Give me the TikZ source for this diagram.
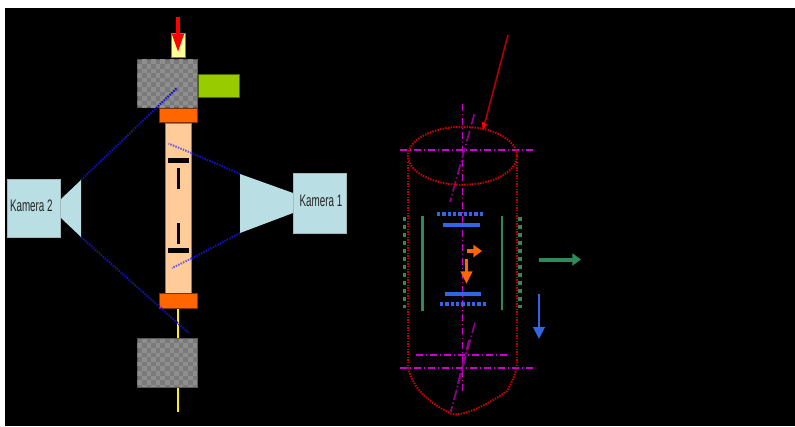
\documentclass[tikz,border=0pt]{standalone}
\usepackage{fontspec}
\setmainfont{Liberation Sans}
\usetikzlibrary{arrows.meta}
\definecolor{camblue}{HTML}{B9DEE3}
\definecolor{rodcol}{HTML}{FFCC99}
\definecolor{flange}{HTML}{FF6600}
\definecolor{limeg}{HTML}{99CC00}
\definecolor{paley}{HTML}{FFFF99}
\definecolor{navyd}{HTML}{1010C8}
\definecolor{violetl}{HTML}{6A5AE0}
\definecolor{darkred}{HTML}{B00000}
\definecolor{dotred}{HTML}{C80000}
\definecolor{mag}{HTML}{CC00CC}
\definecolor{purp}{HTML}{8A008A}
\definecolor{seag}{HTML}{2E8B57}
\definecolor{blu}{HTML}{3366E6}
\definecolor{gra}{HTML}{7A7A7A}
\definecolor{grb}{HTML}{8E8E8E}
\tikzset{
  x=.75pt,y=-.75pt,
  edge/.style={draw=#1,line width=.6pt},
  part/.style={rectangle,inner sep=0pt,outer sep=0pt},
  cam/.style={part,fill=camblue,edge=camblue!60!gray},
  rodbox/.style={part,fill=rodcol,edge=rodcol!60!black},
  flangebox/.style={part,fill=flange,edge=flange!50!black},
  limebox/.style={part,fill=limeg,edge=limeg!50!black},
  palebox/.style={part,fill=paley,edge=paley!50!black},
  barbox/.style={part,fill=black,draw=black},
  graybox/.style={part,fill=gra,edge=gray!70!black},
  sight/.style={navyd,line width=1.5pt,dash pattern=on 1.1pt off .9pt},
  sightin/.style={violetl,line width=1.5pt,dash pattern=on 1.1pt off .9pt},
  contour/.style={dotred,line width=1.5pt,dash pattern=on 1.1pt off .9pt},
  axis/.style={mag,line width=1.3pt,dash pattern=on 5.5pt off 2pt on 1pt off 2pt},
  axiss/.style={purp,line width=1.3pt,dash pattern=on 8pt off 2pt on 1pt off 2pt},
  dotsg/.style={seag,line width=2.6pt,dash pattern=on 3pt off 3pt},
  dotsb/.style={blu,line width=3pt,dash pattern=on 2.4pt off 1.6pt},
  camlabel/.style={inner sep=0pt,text=black!85,font=\fontsize{12.5}{14}\selectfont,xscale=.59},
}
\newcommand{\rectnode}[6]{%
  \pgfmathsetlengthmacro{\rw}{(#5-#3)*.75pt}%
  \pgfmathsetlengthmacro{\rh}{(#6-#4)*.75pt}%
  \node[#2,minimum width=\rw,minimum height=\rh] (#1) at ({(#3+#5)/2},{(#4+#6)/2}) {};}
\newcommand{\checkers}[4]{%
  \begin{scope}
    \clip (#1,#2) rectangle (#3,#4);
    \foreach \i in {0,...,13}{\foreach \j in {0,...,10}{%
      \pgfmathtruncatemacro{\odd}{mod(\i+\j,2)}%
      \ifnum\odd=1
        \fill[grb] ({#1+\i*4.6},{#2+\j*4.6}) rectangle ++(4.6,4.6);
      \fi}}
  \end{scope}}
\begin{document}
\begin{tikzpicture}
\useasboundingbox (0,0) rectangle (795,426);
\fill[white] (0,0) rectangle (795,426);
\fill[black] (5,8) rectangle (795,426);

% --- left: apparatus
\coordinate (yrA) at (178,308); \coordinate (yrB) at (178,338);
\coordinate (yrC) at (178,388); \coordinate (yrD) at (178,412);
\draw[yellow,line width=2.2pt] (yrA) -- (yrB);
\draw[yellow,line width=2.2pt] (yrC) -- (yrD);

\rectnode{gtop}{graybox}{137}{59}{197.5}{107.5}
\checkers{137.3}{59.3}{197.2}{107.2}
\rectnode{gbot}{graybox}{137}{338.5}{197.5}{387}
\checkers{137.3}{338.8}{197.2}{386.7}
\rectnode{lime}{limebox}{198}{74}{239}{97.5}
\rectnode{pale}{palebox}{171.5}{33.5}{185.5}{57.5}
\rectnode{rod}{rodbox}{165.5}{123.5}{191.5}{293}
\rectnode{ftop}{flangebox}{159.5}{108.5}{197.5}{122.5}
\rectnode{fbot}{flangebox}{159.5}{293.5}{197.5}{308}
\rectnode{b1}{barbox}{168.5}{158.5}{188.5}{162.5}
\rectnode{b2}{barbox}{177}{168}{179.5}{188}
\rectnode{b3}{barbox}{177}{223}{179.5}{243}
\rectnode{b4}{barbox}{168.5}{248.5}{188.5}{252.5}

\coordinate (redS) at (178,17); \coordinate (redE) at (178,52);
\draw[red,line width=2.4pt,-{Triangle[length=13.5pt,width=8.5pt]}] (redS) -- (redE);

% cameras
\rectnode{k2}{cam}{7.5}{179}{60.5}{237.5}
\rectnode{k1}{cam}{293.5}{173.5}{346.5}{233}
\node[camlabel] at ([xshift=-2pt,yshift=1.5pt]k2.center) {Kamera 2};
\node[camlabel] at ([xshift=.7pt,yshift=1.5pt]k1.center) {Kamera 1};
\coordinate (c2a) at (61,199); \coordinate (c2b) at (81,180);
\coordinate (c2c) at (81,237); \coordinate (c2d) at (61,218);
\coordinate (c1a) at (240,174); \coordinate (c1b) at (293,193);
\coordinate (c1c) at (293,213); \coordinate (c1d) at (240,233);
\fill[camblue] (c2a) -- (c2b) -- (c2c) -- (c2d) -- cycle;
\fill[camblue] (c1a) -- (c1b) -- (c1c) -- (c1d) -- cycle;

% sight lines
\coordinate (s1) at (177,88); \coordinate (s2) at (189,333);
\coordinate (s3) at (168.5,143.5); \coordinate (s4) at (172,268);
\coordinate (s3r) at (191.5,153); \coordinate (s4r) at (191.5,258.5);
\draw[sight] (c2b) -- (s1);
\draw[sight] (c2c) -- (s2);
\draw[sight] (c1a) -- (s3r);
\draw[sightin] (s3r) -- (s3);
\draw[sight] (c1d) -- (s4r);
\draw[sightin] (s4r) -- (s4);

% --- right: measurement volume
\coordinate (ell) at (462.5,155.8);
\coordinate (wlT) at (408.3,162); \coordinate (wrT) at (517,162);
\coordinate (wlB) at (408.3,368); \coordinate (wrB) at (517,368);

\coordinate (vt) at (462.5,104); \coordinate (vb) at (462.5,392);
\coordinate (h1l) at (400,150); \coordinate (h1r) at (534,150);
\coordinate (h2l) at (400,368); \coordinate (h2r) at (534,368);
\coordinate (h3l) at (416,355); \coordinate (h3r) at (510,355);
\coordinate (d1a) at (474.3,114.3); \coordinate (d1b) at (450,202);
\coordinate (d2a) at (475,322.7); \coordinate (d2b) at (450.7,411.7);
\coordinate (d3a) at (469,340); \coordinate (d3b) at (457,387);
\draw[axis] (vt) -- (vb);
\draw[axis] (h1l) -- (h1r);
\draw[axis] (h2l) -- (h2r);
\draw[axis] (h3l) -- (h3r);
\draw[axiss] (d1a) -- (d1b);
\draw[axiss] (d2a) -- (d2b);
\draw[axiss] (d3a) -- (d3b);

\draw[contour] (ell) ellipse [x radius=54.5,y radius=29];
\draw[contour] (wlT) -- (wlB);
\draw[contour] (wrT) -- (wrB);
\draw[contour] (wlB) .. controls (412,388) and (430,404) .. (452,414)
  .. controls (458,415.5) and (470,412) .. (480,407)
  .. controls (492,401) and (500,396) .. (507,391)
  .. controls (511,384) and (514,377) .. (wrB);

\coordinate (arS) at (508,35); \coordinate (arE) at (483,130);
\draw[darkred,line width=1.2pt] (arS) -- (arE);
\fill[red] (481.5,121.5) -- (487,124.5) -- (483,130) -- cycle;

% detector dots and plates
\coordinate (dgA) at (404.5,216.5); \coordinate (dgB) at (404.5,308);
\coordinate (dgC) at (520,216.5); \coordinate (dgD) at (520,308);
\draw[dotsg] (dgA) -- (dgB);
\draw[dotsg] (dgC) -- (dgD);
\coordinate (dbA) at (437,214); \coordinate (dbB) at (483,214);
\coordinate (dbC) at (440,304); \coordinate (dbD) at (486,304);
\draw[dotsb] (dbA) -- (dbB);
\draw[dotsb] (dbC) -- (dbD);
\coordinate (gpA) at (422.5,216); \coordinate (gpB) at (422.5,310.5);
\coordinate (gpC) at (502,215.5); \coordinate (gpD) at (502,310);
\draw[seag,line width=2.2pt] (gpA) -- (gpB);
\draw[seag,line width=2.2pt] (gpC) -- (gpD);
\coordinate (bpA) at (443,224.5); \coordinate (bpB) at (479.5,224.5);
\coordinate (bpC) at (445,293.5); \coordinate (bpD) at (481,293.5);
\draw[blu,line width=3pt] (bpA) -- (bpB);
\draw[blu,line width=3pt] (bpC) -- (bpD);

% arrows
\coordinate (oA) at (467,251); \coordinate (oB) at (482,251);
\coordinate (oC) at (466.5,259); \coordinate (oD) at (466.5,284);
\draw[flange,line width=3pt,-{Triangle[length=6.5pt,width=9pt]}] (oA) -- (oB);
\draw[flange,line width=2.4pt,-{Triangle[length=9.5pt,width=8.5pt]}] (oC) -- (oD);
\coordinate (gA) at (539,259.5); \coordinate (gB) at (581,259.5);
\draw[seag,line width=3pt,-{Triangle[length=6.5pt,width=9pt]}] (gA) -- (gB);
\coordinate (blA) at (539,293.5); \coordinate (blB) at (539,339);
\draw[blu,line width=2.2pt,-{Triangle[length=9pt,width=8.5pt]}] (blA) -- (blB);
\end{tikzpicture}
\end{document}
